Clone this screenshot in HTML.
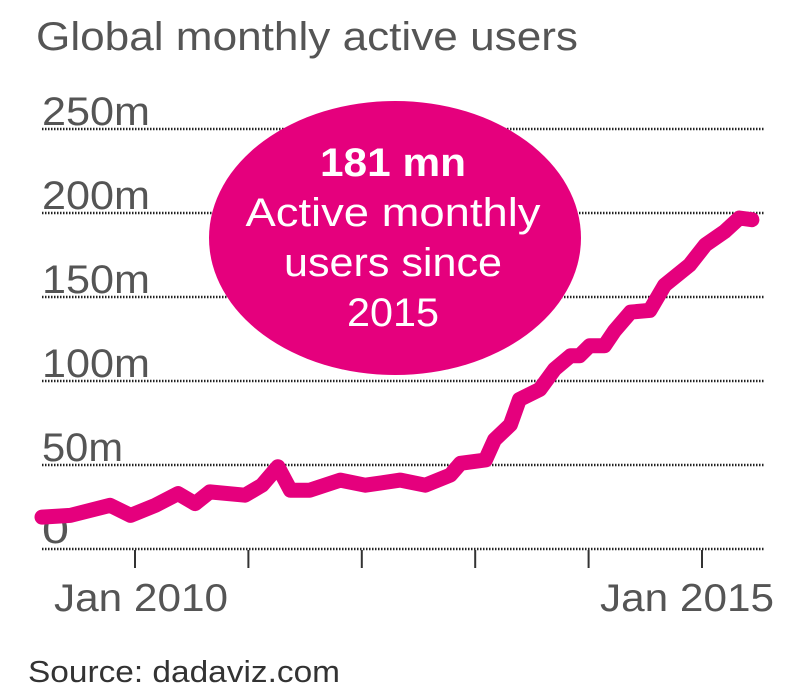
<!DOCTYPE html>
<html><head><meta charset="utf-8"><style>
html,body{margin:0;padding:0;background:#fff;width:801px;height:696px;overflow:hidden}
svg{display:block}
text{font-family:"Liberation Sans",sans-serif}
</style></head><body>
<svg id="chart" width="801" height="696">
<text x="36" y="50" font-size="40" fill="#555" textLength="542" lengthAdjust="spacingAndGlyphs">Global monthly active users</text>
<g id="grid"></g>
<g id="xaxis"></g>
<path id="line" fill="none" stroke="#e5007d" stroke-width="15" stroke-linejoin="round" stroke-linecap="round"/>
<g>
<ellipse cx="395" cy="238" rx="186" ry="137" fill="#e5007d"/>
<text x="393" y="176" font-size="40" font-weight="bold" fill="#fff" text-anchor="middle" textLength="146" lengthAdjust="spacingAndGlyphs">181 mn</text>
<text x="393" y="226" font-size="40" fill="#fff" text-anchor="middle" textLength="295" lengthAdjust="spacingAndGlyphs">Active monthly</text>
<text x="393" y="276" font-size="40" fill="#fff" text-anchor="middle" textLength="218" lengthAdjust="spacingAndGlyphs">users since</text>
<text x="393" y="326" font-size="40" fill="#fff" text-anchor="middle" textLength="92" lengthAdjust="spacingAndGlyphs">2015</text>
</g>
<text x="28" y="682" font-size="31" fill="#333" textLength="312" lengthAdjust="spacingAndGlyphs">Source: dadaviz.com</text>
</svg>
<script>
const yTicks=[0,50,100,150,200,250];
const yTickLabels=["0","50m","100m","150m","200m","250m"];
const xTickYears=[0,1,2,3,4,5];
const xLabelYears=[0,5];
const xLabels=["Jan 2010","Jan 2015"];
const years=[-0.82,-0.57,-0.22,-0.04,0.18,0.38,0.53,0.66,0.97,1.12,1.26,1.37,1.54,1.81,2.03,2.34,2.56,2.78,2.87,3.09,3.17,3.31,3.39,3.57,3.70,3.84,3.92,4.01,4.14,4.23,4.37,4.54,4.67,4.89,5.03,5.20,5.33,5.44];
const users=[19,20,26,20,26,33,27,34,32,38,49,35,35,41,38,41,38,44,51,53,65,74,89,95,107,115,115,121,121,130,141,142,157,169,181,189,197,196];
const NS="http://www.w3.org/2000/svg";
const xS=v=>135+v*113.4;
const yS=v=>549-v*84/50;
const grid=document.getElementById('grid');
yTicks.forEach((t,i)=>{
 const l=document.createElementNS(NS,'line');
 l.setAttribute('x1',42);l.setAttribute('x2',765);
 l.setAttribute('y1',yS(t));l.setAttribute('y2',yS(t));
 l.setAttribute('stroke','#222');l.setAttribute('stroke-width','2.5');l.setAttribute('stroke-dasharray','1.5 1.5');
 
 
 grid.appendChild(l);
 const tx=document.createElementNS(NS,'text');
 tx.setAttribute('x',42);tx.setAttribute('y',yS(t)-(t===0?6:4));
 tx.setAttribute('font-size','40');tx.setAttribute('fill','#555');
 tx.setAttribute('textLength',String(yTickLabels[i].length*27));
 tx.setAttribute('lengthAdjust','spacingAndGlyphs');
 tx.textContent=yTickLabels[i];
 
 
 grid.appendChild(tx);
});
const xa=document.getElementById('xaxis');
xTickYears.forEach(v=>{
 const l=document.createElementNS(NS,'line');
 l.setAttribute('x1',xS(v));l.setAttribute('x2',xS(v));
 l.setAttribute('y1',550);l.setAttribute('y2',568);
 l.setAttribute('stroke','#333');l.setAttribute('stroke-width','2');
 
 
 xa.appendChild(l);
});
xLabelYears.forEach((v,i)=>{
 const tx=document.createElementNS(NS,'text');
 tx.setAttribute('x',xS(v)+(i===0?6:-15));tx.setAttribute('y',611);
 tx.setAttribute('text-anchor','middle');
 tx.setAttribute('font-size','39');tx.setAttribute('fill','#555');
 tx.setAttribute('textLength','174');
 tx.setAttribute('lengthAdjust','spacingAndGlyphs');
 tx.textContent=xLabels[i];
 
 
 xa.appendChild(tx);
});
document.getElementById('line').setAttribute('d',years.map((y,i)=>(i?'L':'M')+xS(y).toFixed(1)+','+yS(users[i]).toFixed(1)).join(''));
</script>
</body></html>
